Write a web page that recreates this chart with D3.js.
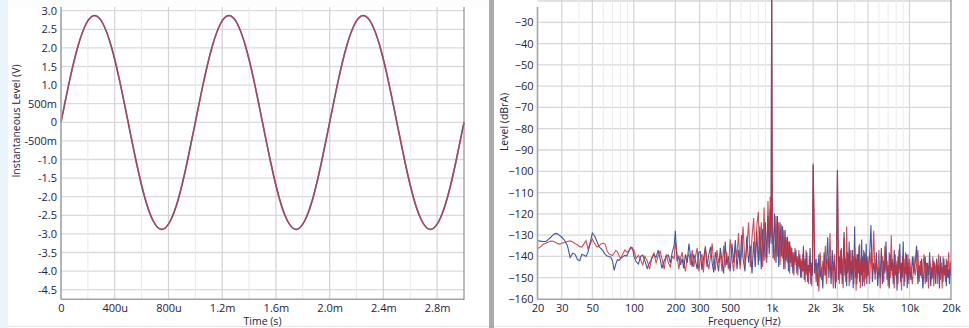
<!DOCTYPE html>
<html>
<head>
<meta charset="utf-8">
<script src="https://cdn.jsdelivr.net/npm/d3@7"></script>
<style>
  html, body { margin: 0; padding: 0; background: #fff; }
  svg { display: block; }
</style>
</head>
<body>
<div id="chart"></div>
<script>
// ---- time domain (ms / V), both channels overlap ----
const timeMs = [0, 0.0625, 0.125, 0.1875, 0.25, 0.3125, 0.375, 0.4375, 0.5, 0.5625, 0.625, 0.6875, 0.75, 0.8125, 0.875, 0.9375,
  1, 1.0625, 1.125, 1.1875, 1.25, 1.3125, 1.375, 1.4375, 1.5, 1.5625, 1.625, 1.6875, 1.75, 1.8125, 1.875, 1.9375,
  2, 2.0625, 2.125, 2.1875, 2.25, 2.3125, 2.375, 2.4375, 2.5, 2.5625, 2.625, 2.6875, 2.75, 2.8125, 2.875, 2.9375, 3];
const levelV = [0, 1.10, 2.03, 2.65, 2.87, 2.65, 2.03, 1.10, 0, -1.10, -2.04, -2.66, -2.88, -2.66, -2.04, -1.10,
  0, 1.10, 2.03, 2.65, 2.87, 2.65, 2.03, 1.10, 0, -1.10, -2.04, -2.66, -2.88, -2.66, -2.04, -1.10,
  0, 1.10, 2.03, 2.65, 2.87, 2.65, 2.03, 1.10, 0, -1.10, -2.04, -2.66, -2.88, -2.66, -2.04, -1.10, 0];

const timeTicks = [0, 0.4, 0.8, 1.2, 1.6, 2.0, 2.4, 2.8];
const timeLabels = ['0', '400u', '800u', '1.2m', '1.6m', '2.0m', '2.4m', '2.8m'];
const timeGridMinor = [0.2, 0.6, 1.0, 1.4, 1.8, 2.2, 2.6];
const voltTicks = [-4.5, -4, -3.5, -3, -2.5, -2, -1.5, -1, -0.5, 0, 0.5, 1, 1.5, 2, 2.5, 3];
const voltLabels = ['-4.5', '-4.0', '-3.5', '-3.0', '-2.5', '-2.0', '-1.5', '-1.0', '-500m', '0', '500m', '1.0', '1.5', '2.0', '2.5', '3.0'];

// ---- spectrum (Hz / dBrA) ----
const freqLow = [20, 21, 22, 23, 24, 25, 26, 27, 28, 29, 30, 31.5, 33, 34.5, 36, 37.5, 39, 40.5, 42, 43.5,
  45, 46.5, 48, 50, 52, 54, 56, 58, 60, 62, 64, 66, 68, 70, 72, 74, 76, 78, 80, 83, 86, 89, 92, 95, 98];
const blueLow = [-132.6, -132.8, -133, -133, -132, -131, -129.8, -129.2, -129.4, -130.2,
  -131, -132.5, -135, -140.5, -138.5, -139, -141.5, -142, -139, -139.5,
  -140, -138, -134, -129, -130.5, -133, -135.5, -136.5, -137.5, -139,
  -139.8, -140, -140.4, -142, -146.5, -143.5, -141.5, -141.8, -141, -140.2,
  -139.5, -139.8, -137.5, -135.8, -136];
const redLow = [-136.4, -135.5, -134.3, -133.8, -133.2, -132.8, -132.9, -133.4, -134, -134.2,
  -133.8, -133.5, -133, -132.7, -133.2, -134, -134.5, -135.4, -135.6, -134,
  -132.6, -136.4, -134.5, -131.8, -134, -135.6, -135, -134, -133.8, -134.2,
  -137.5, -138.8, -139.2, -139.6, -138.5, -137.2, -137.8, -139.5, -141, -139,
  -137, -138, -137.5, -135.6, -137];

const freqMid = [100, 104, 108, 112, 116, 120, 125, 130, 135, 140, 145, 150, 155, 160, 166, 172, 178, 184, 190, 196,
  200, 206, 212, 218, 224, 230, 237, 244, 251, 258, 265, 272, 280, 288, 296, 304, 312, 320, 330, 340,
  350, 360, 370, 380, 390, 400, 412, 424, 436, 448, 460, 472, 485, 500, 515, 530, 545, 560, 575, 590,
  605, 620, 640, 660, 680, 700, 720, 740, 760, 780, 800, 820, 840, 860, 880, 900, 920, 940, 960, 975, 990];
const blueMid = [-140, -142.5, -143.5, -140, -139.4, -142, -145.6, -143, -141, -139,
  -140.5, -137, -141, -145.6, -142, -140, -139.4, -143, -138, -135,
  -128, -142.3, -140, -144, -141, -145.6, -139, -143, -134, -140,
  -144.8, -139, -142, -146, -138, -137.8, -146.4, -141, -136, -145,
  -139, -135.5, -143, -147.5, -138, -141.6, -147, -136, -142, -148,
  -133, -144, -140, -147, -134, -143, -132.3, -146, -137, -144,
  -130, -141, -147, -130.7, -143, -135, -148, -133, -145, -128,
  -144, -126, -146, -127, -142, -124, -141, -121, -139, -118, -134];
const redMid = [-137, -141, -139.5, -141.5, -144, -140, -142, -146, -140.5, -138.5,
  -143, -140, -137.5, -141, -146, -139, -143, -145, -140, -141,
  -133, -139, -146, -141, -138, -143, -147, -140, -139, -144,
  -137, -145, -140, -136, -147, -141, -139, -147.5, -135, -142,
  -146, -140, -134, -144, -146.5, -137, -143, -139, -147, -135,
  -145, -138, -146, -132, -141, -147, -136, -140, -129, -146,
  -138, -126, -144, -136, -124, -145, -131, -122, -141, -126,
  -119, -142, -124, -145, -117, -139, -143, -114, -136, -112, -131];

const freqHigh1 = [1000, 1010, 1025, 1050, 1075, 1100, 1125, 1150, 1175, 1200, 1225, 1250, 1275, 1300, 1325, 1350,
  1375, 1400, 1425, 1450, 1475, 1500, 1525, 1550, 1575, 1600, 1625, 1650, 1675, 1700, 1725, 1750,
  1775, 1800, 1825, 1850, 1875, 1900, 1925, 1950, 1975];
const blueHigh1 = [-12, -125, -141, -120, -143, -121, -145, -124, -140, -125.8,
  -146, -127.6, -142, -130.8, -147, -133, -143, -136, -148, -138,
  -143, -137, -148, -140, -145, -139, -150, -142, -147, -135,
  -151, -141, -148, -138, -152, -144, -147, -136, -153, -143, -149];
const redHigh1 = [-10, -122, -132, -142, -121, -140, -124, -144, -125, -141,
  -127.6, -146, -131, -143, -133, -148, -135, -145, -138, -149,
  -136, -144, -140, -149, -137, -146, -141, -150, -139, -147,
  -143, -152, -137, -149, -144, -153, -140, -148, -145, -154, -142];

const freqHigh2 = [2000, 2050, 2100, 2150, 2200, 2250, 2300, 2350, 2400, 2450, 2500, 2550, 2600, 2650, 2700, 2750,
  2800, 2850, 2900, 2950, 3000, 3050, 3100, 3150, 3200, 3250, 3300, 3350, 3400, 3450, 3500, 3550,
  3600, 3650, 3700, 3750, 3800, 3850, 3900, 3950, 4000, 4050, 4100, 4150, 4200, 4250, 4300, 4350,
  4400, 4450, 4500, 4550, 4600, 4650, 4700, 4750, 4800, 4850, 4900, 4950];
const blueHigh2 = [-97, -148, -141, -154, -139, -150, -145, -155, -138, -149,
  -143, -131, -150, -140, -153, -137, -147, -142, -155, -144,
  -99.4, -151, -140, -148, -136, -153, -143, -128.5, -149, -141,
  -154, -138, -147, -133, -152, -142, -149, -137, -155, -144,
  -126, -150, -141, -153, -139, -148, -135, -152, -143, -149,
  -132, -154, -140, -147, -138, -151, -144, -134, -153, -142];
const redHigh2 = [-96.3, -140, -152, -143, -156.5, -138, -151, -142, -149, -135,
  -153, -141, -146, -129, -150, -144, -155, -139, -147, -152,
  -100, -142, -153, -137, -149, -141, -155, -131, -146, -152,
  -126, -148, -140, -154, -143, -137, -151, -145, -140, -153,
  -136, -144, -156, -139, -150, -142, -147, -134, -155, -141,
  -148, -143, -152, -137, -154, -145, -139, -150, -146, -141];

const freqHigh3 = [5000, 5125, 5250, 5375, 5500, 5625, 5750, 5875, 6000, 6125, 6250, 6375, 6500, 6625, 6750, 6875,
  7000, 7125, 7250, 7375, 7500, 7625, 7750, 7875, 8000, 8125, 8250, 8375, 8500, 8625, 8750, 8875,
  9000, 9125, 9250, 9375, 9500, 9625, 9750, 9875];
const blueHigh3 = [-149, -141, -125.3, -152, -143, -148, -138, -154, -145, -150,
  -136, -153, -142, -148, -133, -151, -144, -155, -139, -147,
  -141, -153, -137, -149, -144, -156, -140, -148, -134, -152,
  -143, -150, -133, -154, -145, -148, -139, -155, -143, -151];
const redHigh3 = [-140, -153, -138, -146, -128, -151, -143, -149, -137, -155,
  -144, -140, -152, -135, -147, -142, -154, -138, -150, -130,
  -149, -143, -155, -139, -148, -142, -153, -137, -146, -144,
  -156, -140, -147, -141, -152, -138, -149, -144, -139, -153];

const freqHigh4 = [10000, 10250, 10500, 10750, 11000, 11250, 11500, 11750, 12000, 12250, 12500, 12750, 13000, 13250,
  13500, 13750, 14000, 14250, 14500, 14750, 15000, 15250, 15500, 15750, 16000, 16250, 16500, 16750,
  17000, 17250, 17500, 17750, 18000, 18250, 18500, 18750, 19000, 19250, 19500, 19750, 20000];
const blueHigh4 = [-145, -151, -140, -148, -143, -135, -153, -144, -149, -141,
  -155, -146, -140, -152, -143, -149, -138, -154, -145, -150,
  -142, -147, -153, -141, -149, -144, -155, -140, -148, -145,
  -152, -141, -149, -144, -154, -142, -150, -146, -153, -143, -149];
const redHigh4 = [-141, -147, -153, -140, -149, -144, -137, -152, -142, -150,
  -145, -139, -153, -143, -148, -155, -141, -146, -151, -140,
  -154, -143, -148, -142, -153, -139, -147, -151, -143, -155,
  -140, -148, -144, -152, -141, -149, -145, -138, -150, -147, -142];

const freqTicks = [20, 30, 50, 100, 200, 300, 500, 1000, 2000, 3000, 5000, 10000, 20000];
const freqLabels = ['20', '30', '50', '100', '200', '300', '500', '1k', '2k', '3k', '5k', '10k', '20k'];
const freqGridMinor = [40, 60, 70, 80, 90, 400, 600, 700, 800, 900, 4000, 6000, 7000, 8000, 9000];
const dbTicks = [-160, -150, -140, -130, -120, -110, -100, -90, -80, -70, -60, -50, -40, -30];
const dbGrid = [-150, -140, -130, -120, -110, -100, -90, -80, -70, -60, -50, -40, -30, -20];

const specFreq = [].concat(freqLow, freqMid, freqHigh1, freqHigh2, freqHigh3, freqHigh4);
const specBlue = [].concat(blueLow, blueMid, blueHigh1, blueHigh2, blueHigh3, blueHigh4);
const specRed = [].concat(redLow, redMid, redHigh1, redHigh2, redHigh3, redHigh4);

const width = 969;
const height = 328;
const textColor = '#23243d';
const font = "'Open Sans', sans-serif";

const svg = d3.select('#chart').append('svg')
  .attr('width', width)
  .attr('height', height)
  .style('font-family', font);

// panel background bits
svg.append('rect').attr('x', 0).attr('y', 0).attr('width', width).attr('height', height).attr('fill', '#fff');
svg.append('rect').attr('x', 0).attr('y', 0).attr('width', 8).attr('height', height).attr('fill', '#e9f4fc');
svg.append('line').attr('x1', 8).attr('x2', width).attr('y1', 326.5).attr('y2', 326.5).attr('stroke', '#e6e6e6');

// ========== left: time domain ==========
const tx = d3.scaleLinear().domain([0, 3]).range([61, 464]);
const ty = d3.scaleLinear().domain([-4.75, 3.1]).range([299, 7]);

const left = svg.append('g');

left.append('g').selectAll('line')
  .data(voltTicks)
  .enter().append('line')
  .attr('x1', tx(0)).attr('x2', tx(3))
  .attr('y1', d => ty(d)).attr('y2', d => ty(d))
  .attr('stroke', '#dadada').attr('stroke-width', 1.3);

left.append('g').selectAll('line')
  .data(timeGridMinor)
  .enter().append('line')
  .attr('x1', d => tx(d)).attr('x2', d => tx(d))
  .attr('y1', 7).attr('y2', 299)
  .attr('stroke', '#e9e9e9');

left.append('g').selectAll('line')
  .data(timeTicks.slice(1))
  .enter().append('line')
  .attr('x1', d => tx(d)).attr('x2', d => tx(d))
  .attr('y1', 7).attr('y2', 299)
  .attr('stroke', '#d2d2d2').attr('stroke-width', 1.2);

const sineLine = d3.line()
  .x((d, i) => tx(timeMs[i]))
  .y(d => ty(d))
  .curve(d3.curveNatural);

left.append('path')
  .datum(levelV)
  .attr('d', sineLine)
  .attr('fill', 'none')
  .attr('stroke', '#5a5f9c')
  .attr('stroke-width', 1.5);

left.append('path')
  .datum(levelV)
  .attr('d', sineLine)
  .attr('fill', 'none')
  .attr('stroke', '#b24258')
  .attr('stroke-opacity', 0.85)
  .attr('stroke-width', 1.5);

const leftY = left.append('g')
  .attr('transform', `translate(${tx(0)},0)`)
  .call(d3.axisLeft(ty).tickValues(voltTicks).tickFormat((d, i) => voltLabels[i]).tickSize(0).tickPadding(4));

const leftX = left.append('g')
  .attr('transform', 'translate(0,299)')
  .call(d3.axisBottom(tx).tickValues(timeTicks).tickFormat((d, i) => timeLabels[i]).tickSize(0).tickPadding(5));

// top strip hides overflow of the top label
left.append('rect').attr('x', 8).attr('y', 0).attr('width', 481).attr('height', 7).attr('fill', '#fcfdfe');

left.append('line').attr('x1', tx(0)).attr('x2', tx(0)).attr('y1', 7).attr('y2', 299.5)
  .attr('stroke', '#a3a3a3').attr('stroke-width', 1.6);
left.append('line').attr('x1', tx(0)).attr('x2', tx(3)).attr('y1', 299.3).attr('y2', 299.3)
  .attr('stroke', '#a3a3a3').attr('stroke-width', 1.6);
left.append('line').attr('x1', tx(3)).attr('x2', tx(3)).attr('y1', 7).attr('y2', 300)
  .attr('stroke', '#7a7a7a').attr('stroke-width', 1);

left.append('text')
  .attr('transform', 'translate(20,121) rotate(-90)')
  .attr('text-anchor', 'middle')
  .style('font-size', '10.5px')
  .attr('fill', textColor)
  .text('Instantaneous Level (V)');

left.append('text')
  .attr('x', (tx(0) + tx(3)) / 2)
  .attr('y', 324.5)
  .attr('text-anchor', 'middle')
  .style('font-size', '10.5px')
  .attr('fill', textColor)
  .text('Time (s)');

// separator between the two graphs
svg.append('rect').attr('x', 489).attr('y', 0).attr('width', 5).attr('height', height).attr('fill', '#ababab');

// ========== right: spectrum ==========
const fx = d3.scaleLog().domain([20, 20000]).range([537.5, 951]);
const fy = d3.scaleLinear().domain([-160, -20]).range([299, 1]);

const right = svg.append('g');

right.append('g').selectAll('line')
  .data(dbGrid)
  .enter().append('line')
  .attr('x1', fx(20)).attr('x2', fx(20000))
  .attr('y1', d => fy(d)).attr('y2', d => fy(d))
  .attr('stroke', '#d8d8d8').attr('stroke-width', 1.3);

right.append('g').selectAll('line')
  .data(freqGridMinor)
  .enter().append('line')
  .attr('x1', d => fx(d)).attr('x2', d => fx(d))
  .attr('y1', 0).attr('y2', 299)
  .attr('stroke', '#ebebeb');

right.append('g').selectAll('line')
  .data(freqTicks.slice(1, -1))
  .enter().append('line')
  .attr('x1', d => fx(d)).attr('x2', d => fx(d))
  .attr('y1', 0).attr('y2', 299)
  .attr('stroke', '#d4d4d4').attr('stroke-width', 1.2);

svg.append('clipPath').attr('id', 'specClip')
  .append('rect').attr('x', fx(20)).attr('y', 0).attr('width', fx(20000) - fx(20)).attr('height', 299);

const specLine = d3.line()
  .x((d, i) => fx(specFreq[i]))
  .y(d => fy(d));

const traces = right.append('g').attr('clip-path', 'url(#specClip)');

traces.append('path')
  .datum(specBlue)
  .attr('d', specLine)
  .attr('fill', 'none')
  .attr('stroke', '#4058a0')
  .attr('stroke-width', 1.1);

traces.append('path')
  .datum(specRed)
  .attr('d', specLine)
  .attr('fill', 'none')
  .attr('stroke', '#c62f3c')
  .attr('stroke-opacity', 0.85)
  .attr('stroke-width', 1.1);

const rightY = right.append('g')
  .attr('transform', `translate(${fx(20)},0)`)
  .call(d3.axisLeft(fy).tickValues(dbTicks).tickFormat(d3.format('d')).tickSize(0).tickPadding(4));

const rightX = right.append('g')
  .attr('transform', 'translate(0,299)')
  .call(d3.axisBottom(fx).tickValues(freqTicks).tickFormat((d, i) => freqLabels[i]).tickSize(0).tickPadding(5));

right.append('line').attr('x1', fx(20)).attr('x2', fx(20)).attr('y1', 7).attr('y2', 299.5)
  .attr('stroke', '#a3a3a3').attr('stroke-width', 1.6);
right.append('line').attr('x1', fx(20)).attr('x2', fx(20000)).attr('y1', 299.3).attr('y2', 299.3)
  .attr('stroke', '#a3a3a3').attr('stroke-width', 1.6);
right.append('line').attr('x1', fx(20000)).attr('x2', fx(20000)).attr('y1', 0).attr('y2', 300)
  .attr('stroke', '#7a7a7a').attr('stroke-width', 1);

right.append('text')
  .attr('transform', 'translate(508,122) rotate(-90)')
  .attr('text-anchor', 'middle')
  .style('font-size', '10.5px')
  .attr('fill', textColor)
  .text('Level (dBrA)');

right.append('text')
  .attr('x', (fx(20) + fx(20000)) / 2)
  .attr('y', 324.5)
  .attr('text-anchor', 'middle')
  .style('font-size', '10.5px')
  .attr('fill', textColor)
  .text('Frequency (Hz)');

// shared axis text styling
[leftY, leftX, rightY, rightX].forEach(g => {
  g.select('.domain').remove();
  g.attr('font-family', font).attr('font-size', 11);
  g.selectAll('text').attr('fill', textColor);
});
</script>
</body>
</html>
